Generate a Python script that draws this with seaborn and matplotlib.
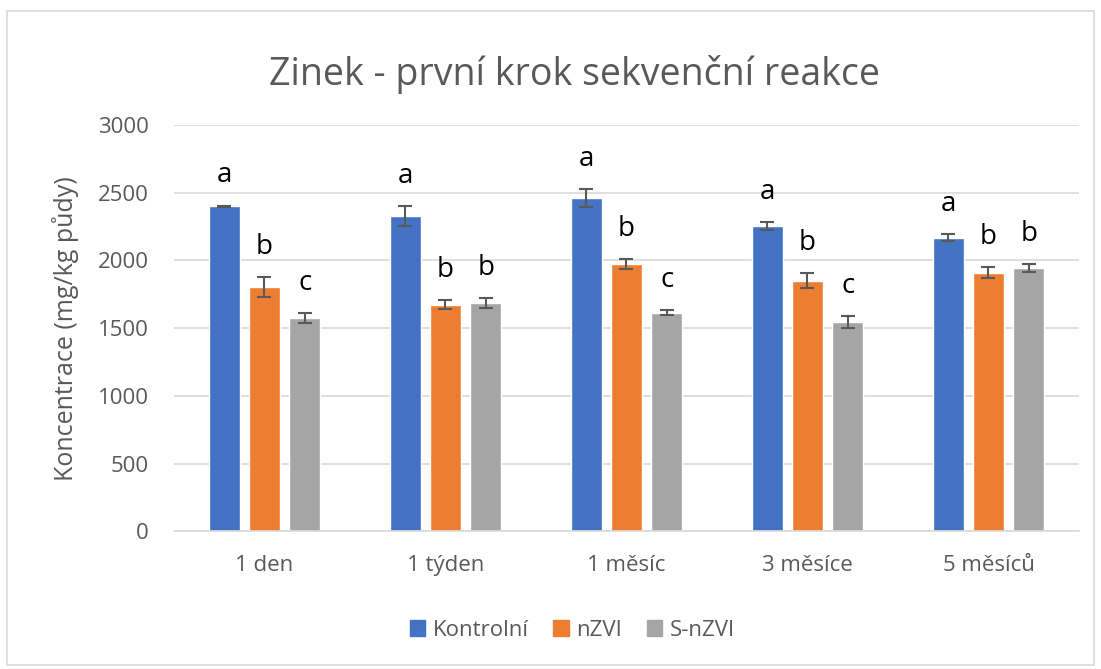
import numpy as np
import pandas as pd
import matplotlib
matplotlib.use("Agg")
import matplotlib.pyplot as plt
import seaborn as sns
from matplotlib.patches import Rectangle

# Data
casy = ['1 den', '1 týden', '1 měsíc', '3 měsíce', '5 měsíců']
varianty = ['Kontrolní', 'nZVI', 'S-nZVI']
kontrolni = [2401, 2327, 2460, 2253, 2169]
nzvi = [1802, 1674, 1972, 1851, 1910]
s_nzvi = [1575, 1683, 1615, 1546, 1945]
err_kontrolni = [5, 76, 68, 28, 27]
err_nzvi = [74, 35, 37, 54, 42]
err_s_nzvi = [35, 37, 20, 44, 30]
pismena_kontrolni = ['a', 'a', 'a', 'a', 'a']
pismena_nzvi = ['b', 'b', 'b', 'b', 'b']
pismena_s_nzvi = ['c', 'b', 'c', 'c', 'b']

barvy = ['#4472C4', '#ED7D31', '#A5A5A5']
seda = '#595959'

rows = []
for var, vals in zip(varianty, [kontrolni, nzvi, s_nzvi]):
    for cas, v in zip(casy, vals):
        rows.append({'Čas': cas, 'Varianta': var, 'Koncentrace': v})
df = pd.DataFrame(rows)

sns.set_theme(style="white")
plt.rcParams['font.family'] = ['Open Sans', 'DejaVu Sans']

fig = plt.figure(figsize=(11.01, 6.69), dpi=100)
ax = fig.add_axes([0.158, 0.206, 0.822, 0.607])

sns.barplot(data=df, x='Čas', y='Koncentrace', hue='Varianta', order=casy,
            hue_order=varianty, palette=barvy, width=0.667, gap=0.225,
            errorbar=None, saturation=1, ax=ax)

chyby = [err_kontrolni, err_nzvi, err_s_nzvi]
pismena = [pismena_kontrolni, pismena_nzvi, pismena_s_nzvi]
for cont, errs, letters in zip(ax.containers, chyby, pismena):
    xs = [p.get_x() + p.get_width() / 2 for p in cont.patches]
    hs = [p.get_height() for p in cont.patches]
    ax.errorbar(xs, hs, yerr=errs, fmt='none', ecolor='#595959',
                elinewidth=1.5, capsize=5, capthick=1.5, zorder=3)
    for x, h, e, t in zip(xs, hs, errs, letters):
        ax.text(x, h + e + 120, t, ha='center', va='bottom',
                fontsize=20, color='black')

ax.set_ylim(0, 3000)
ax.set_xlim(-0.5, 4.5)
ax.set_yticks(np.arange(0, 3001, 500))
ax.yaxis.grid(True, color='#d9d9d9', linewidth=1.2)
ax.set_axisbelow(True)
for s in ['top', 'right', 'left']:
    ax.spines[s].set_visible(False)
ax.spines['bottom'].set_color('#d9d9d9')
ax.spines['bottom'].set_linewidth(1.2)
ax.tick_params(axis='both', length=0, labelsize=16, labelcolor=seda)
ax.tick_params(axis='y', pad=18)
ax.tick_params(axis='x', pad=17)
ax.set_xlabel('')
ax.set_ylabel('Koncentrace (mg/kg půdy)', fontsize=18, color=seda, labelpad=14)

fig.text(0.522, 0.888, 'Zinek - první krok sekvenční reakce', fontsize=27,
         color=seda, ha='center', va='center')

ax.legend_.remove()
handles = [Rectangle((0, 0), 1, 1, color=c) for c in barvy]
fig.legend(handles, varianty, loc='center', bbox_to_anchor=(0.52, 0.058),
           ncol=3, frameon=False, fontsize=16, handlelength=0.7,
           handleheight=0.7, columnspacing=1.1, handletextpad=0.35,
           labelcolor=seda)

fig.patches.append(Rectangle((0.006, 0.006), 0.988, 0.978, transform=fig.transFigure,
                             fill=False, edgecolor='#d9d9d9', linewidth=1.2))

fig.savefig('out.png', dpi=100)
